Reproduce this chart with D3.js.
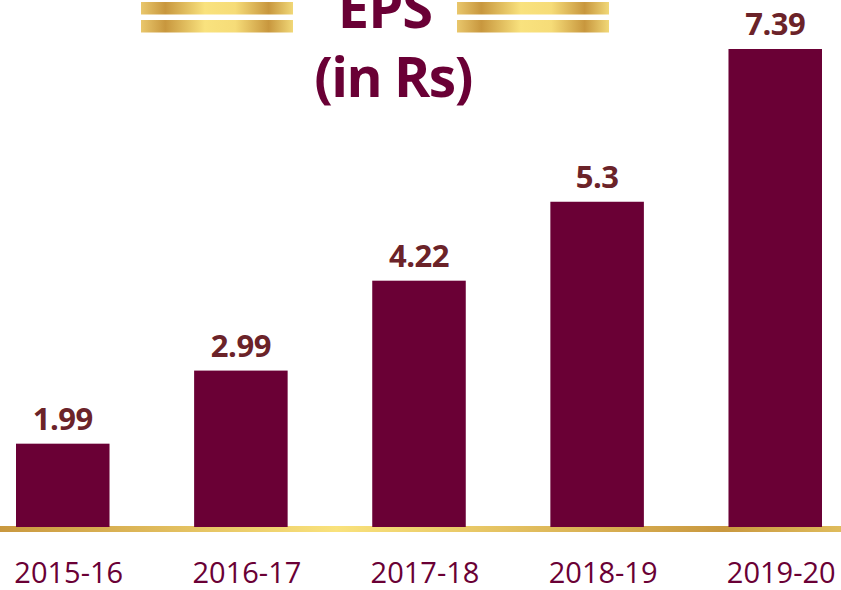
<!DOCTYPE html>
<html>
<head>
<meta charset="utf-8">
<script src="https://cdn.jsdelivr.net/npm/d3@7"></script>
<style>
  body { margin: 0; background: #fff; }
  svg { display: block; }
</style>
</head>
<body>
<script>
// data
var years = ['2015-16', '2016-17', '2017-18', '2018-19', '2019-20'];
var eps = [1.99, 2.99, 4.22, 5.3, 7.39];
var epsLabels = ['1.99', '2.99', '4.22', '5.3', '7.39'];

var W = 841, H = 590;
var base = 527;

var svg = d3.select('body').append('svg')
    .attr('width', W)
    .attr('height', H);

var defs = svg.append('defs');

// gold gradient for the small title bars
var g1 = defs.append('linearGradient').attr('id', 'goldTitle');
g1.append('stop').attr('offset', '0%').attr('stop-color', '#e9c76c');
g1.append('stop').attr('offset', '16%').attr('stop-color', '#c8973e');
g1.append('stop').attr('offset', '42%').attr('stop-color', '#f9e27e');
g1.append('stop').attr('offset', '62%').attr('stop-color', '#f6dc78');
g1.append('stop').attr('offset', '84%').attr('stop-color', '#c8973e');
g1.append('stop').attr('offset', '100%').attr('stop-color', '#f1d878');

// gold gradient for the baseline
var g2 = defs.append('linearGradient').attr('id', 'goldBase')
    .attr('gradientUnits', 'userSpaceOnUse')
    .attr('x1', 0).attr('x2', W).attr('y1', 0).attr('y2', 0);
g2.append('stop').attr('offset', '0%').attr('stop-color', '#c9983f');
g2.append('stop').attr('offset', '40%').attr('stop-color', '#f9e27c');
g2.append('stop').attr('offset', '86%').attr('stop-color', '#c9983f');
g2.append('stop').attr('offset', '100%').attr('stop-color', '#dfbc5c');

var x = d3.scaleBand()
    .domain(years)
    .range([16, 822])
    .paddingInner(0.475)
    .paddingOuter(0);

var y = d3.scaleLinear()
    .domain([0.85, 7.39])
    .range([base, 49]);

// title bars
[[141, 293], [457, 609]].forEach(function(p){
    [2, 20].forEach(function(ty){
        svg.append('rect')
            .attr('x', p[0])
            .attr('y', ty)
            .attr('width', p[1] - p[0])
            .attr('height', 12.5)
            .attr('fill', 'url(#goldTitle)');
    });
});

svg.append('text')
    .attr('x', 385)
    .attr('y', 28)
    .attr('text-anchor', 'middle')
    .attr('font-family', 'Open Sans')
    .attr('font-weight', 'bold')
    .attr('font-size', 56)
    .attr('letter-spacing', -1)
    .attr('fill', '#6a0035')
    .text('EPS');

svg.append('text')
    .attr('x', 393)
    .attr('y', 97)
    .attr('text-anchor', 'middle')
    .attr('font-family', 'Open Sans')
    .attr('font-weight', 'bold')
    .attr('font-size', 55)
    .attr('letter-spacing', -1.5)
    .attr('fill', '#6a0035')
    .text('(in Rs)');

// baseline
svg.append('rect')
    .attr('x', 0)
    .attr('y', 526)
    .attr('width', W)
    .attr('height', 6)
    .attr('fill', 'url(#goldBase)');

// bars
svg.selectAll('.bar')
    .data(eps)
    .enter().append('rect')
    .attr('class', 'bar')
    .attr('x', function(d, i){ return x(years[i]); })
    .attr('y', function(d){ return y(d); })
    .attr('width', x.bandwidth())
    .attr('height', function(d){ return base - y(d); })
    .attr('fill', '#6a0035');

// value labels
svg.selectAll('.val')
    .data(eps)
    .enter().append('text')
    .attr('class', 'val')
    .attr('x', function(d, i){ return x(years[i]) + x.bandwidth() / 2; })
    .attr('y', function(d){ return y(d) - 14; })
    .attr('text-anchor', 'middle')
    .attr('font-family', 'Open Sans')
    .attr('font-weight', 'bold')
    .attr('font-size', 31)
    .attr('letter-spacing', -0.5)
    .attr('fill', '#6b2329')
    .text(function(d, i){ return epsLabels[i]; });

// category axis
var axis = d3.axisBottom(x).tickSize(0).tickPadding(0);
var ax = svg.append('g')
    .attr('transform', 'translate(6,562)')
    .call(axis);
ax.select('.domain').remove();
ax.selectAll('text')
    .attr('dy', '0.71em')
    .attr('font-family', 'Open Sans')
    .attr('font-size', 29)
    .attr('fill', '#6a0035');
</script>
</body>
</html>
